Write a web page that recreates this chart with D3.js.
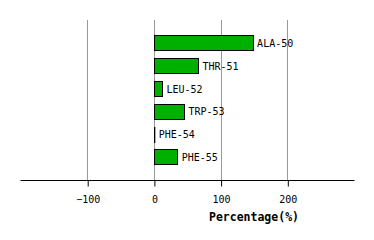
<!DOCTYPE html>
<html>
<head>
<meta charset="utf-8">
<script src="https://cdn.jsdelivr.net/npm/d3@7"></script>
<style>
  body { margin: 0; background: #fff; }
  text { font-family: "DejaVu Sans Mono", monospace; }
</style>
</head>
<body>
<svg width="374" height="240"></svg>
<script>
// Residue names and their percentage values
const residues = ['ALA-50', 'THR-51', 'LEU-52', 'TRP-53', 'PHE-54', 'PHE-55'];
const percentages = [148, 66, 12, 45, 0.5, 35];
const tickValues = [-100, 0, 100, 200];

const svg = d3.select('svg');

const x = d3.scaleLinear()
  .domain([-200, 300])
  .range([20.5, 354]);

const y = d3.scaleBand()
  .domain(residues)
  .range([20, 180])
  .paddingInner(0.34)
  .paddingOuter(0.68);

// Vertical grid lines
svg.append('g')
  .selectAll('line')
  .data(tickValues)
  .join('line')
    .attr('x1', d => Math.round(x(d)) + 0.5)
    .attr('x2', d => Math.round(x(d)) + 0.5)
    .attr('y1', 20)
    .attr('y2', 180)
    .attr('stroke', '#999')
    .attr('stroke-width', 1);

// Bars (tiny values still show as a thin outline)
svg.append('g')
  .selectAll('rect')
  .data(residues)
  .join('rect')
    .attr('x', Math.round(x(0)) + 0.5)
    .attr('y', d => Math.round(y(d)) + 0.5)
    .attr('width', (d, i) => Math.round(x(percentages[i]) - x(0)) || (x(percentages[i]) - x(0)))
    .attr('height', Math.round(y.bandwidth()))
    .attr('fill', '#00b000')
    .attr('stroke', '#000')
    .attr('stroke-width', 1);

// Bar labels
svg.append('g')
  .selectAll('text')
  .data(residues)
  .join('text')
    .attr('x', (d, i) => x(percentages[i]) + 4.5)
    .attr('y', d => y(d) + y.bandwidth() / 2 + 0.5)
    .attr('dy', '0.35em')
    .attr('font-size', 10)
    .attr('fill', '#000')
    .text(d => d);

// Bottom axis
const axis = d3.axisBottom(x)
  .tickValues(tickValues)
  .tickSize(6)
  .tickPadding(9)
  .tickFormat(d3.format('d'));

const axisG = svg.append('g')
  .attr('transform', 'translate(0.5, 180.5)')
  .call(axis);

axisG.select('.domain')
  .attr('d', `M${20},0H${354}`)
  .attr('stroke', '#000');
axisG.selectAll('.tick line').attr('stroke', '#000');
axisG.selectAll('.tick text')
  .attr('font-size', 10)
  .attr('font-family', '"DejaVu Sans Mono", monospace')
  .attr('fill', '#000');

// Axis title
svg.append('text')
  .attr('x', 254)
  .attr('y', 221)
  .attr('text-anchor', 'middle')
  .attr('font-size', 11.5)
  .attr('font-weight', 'bold')
  .text('Percentage(%)');
</script>
</body>
</html>
